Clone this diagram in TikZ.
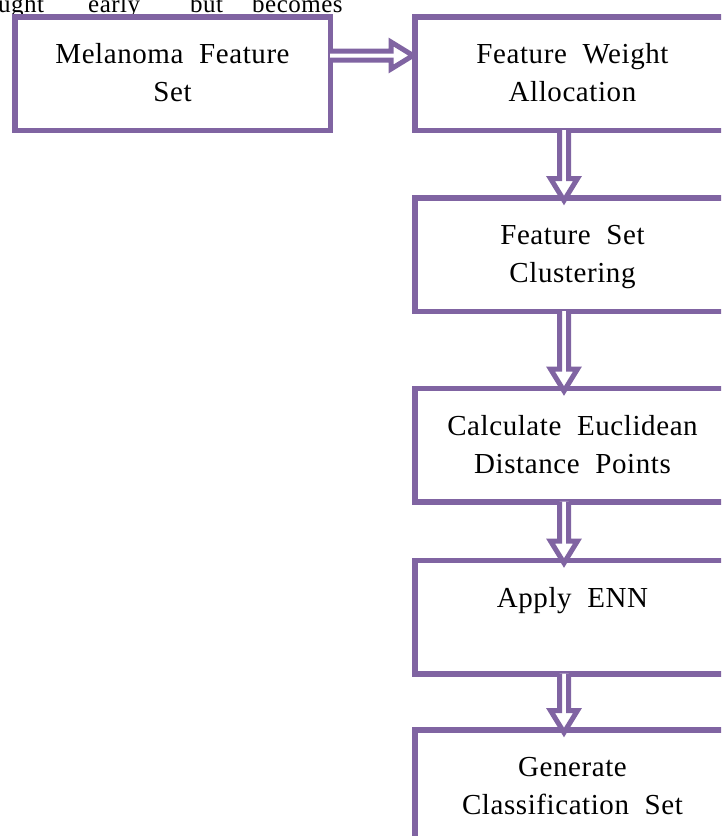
\documentclass[tikz,border=0pt]{standalone}
\usepackage{fontspec}
\setmainfont{Liberation Serif}[WordSpace=2,LetterSpace=2]
\usetikzlibrary{calc}
\definecolor{boxpurple}{HTML}{8064A2}

% text block inside a box: top-aligned, centred lines
\newcommand\boxlines[1]{%
  \begin{minipage}[c][100pt][t]{300pt}\centering
    \vspace*{13.8pt}\fontsize{29}{38}\selectfont\strut#1%
  \end{minipage}}

\tikzset{
  stepbox/.style={draw=boxpurple, line width=5.5pt, fill=white,
    minimum width=315.5pt, minimum height=113.5pt, inner sep=0pt},
  blockarrow/.style={draw=boxpurple, line width=5pt, fill=white,
    line join=miter, miter limit=4},
  bodytext/.style={anchor=base west, inner sep=0pt,
    font=\fontsize{25}{30}\selectfont},
}

\begin{document}
\begin{tikzpicture}[x=1pt, y=-1pt]
  \useasboundingbox (0,0) rectangle (721,836);
  \clip (0,0) rectangle (721,836);

  % running text above the chart
  \node[bodytext] (w1) at (-2,12) {ught};
  \node[bodytext] (w2) at (88,12) {early};
  \node[bodytext] (w3) at (190,12) {but};
  \node[bodytext] (w4) at (252,12) {becomes};

  % process boxes
  \node[stepbox] (mfs) at (172.5,73.5)  {\boxlines{Melanoma Feature\\Set}};
  \node[stepbox] (fwa) at (572.5,73.5)  {\boxlines{Feature Weight\\Allocation}};
  \node[stepbox] (fsc) at (572.5,254.5) {\boxlines{Feature Set\\Clustering}};
  \node[stepbox] (ced) at (572.5,445)   {\boxlines{Calculate Euclidean\\Distance Points}};
  \node[stepbox] (enn) at (572.5,617)   {\boxlines{Apply ENN}};
  \node[stepbox] (gcs) at (572.5,786.5) {\boxlines{Generate\\Classification Set}};

  % horizontal outlined arrow (left box to first step)
  \draw[blockarrow]
    let \p1=(mfs.east), \p2=(fwa.west), \n1={\y1+18pt} in
    (\x1-3pt,\n1+4.5pt) -- (\x2-21pt,\n1+4.5pt) -- (\x2-21pt,\n1+13.5pt)
    -- (\x2+1pt,\n1) -- (\x2-21pt,\n1-13.5pt) -- (\x2-21pt,\n1-4.5pt)
    -- (\x1-3pt,\n1-4.5pt);

  % vertical outlined arrows between steps
  \foreach \a/\b in {fwa/fsc, fsc/ced, ced/enn, enn/gcs}{
    \draw[blockarrow]
      let \p1=(\a.south), \p2=(\b.north), \n1={\x1-8.5pt}, \n2={\y2-5.5pt} in
      (\n1-4.5pt,\y1+3pt) -- (\n1-4.5pt,\n2+22pt) -- (\n1-13.5pt,\n2+22pt)
      -- (\n1,\n2) -- (\n1+13.5pt,\n2+22pt) -- (\n1+4.5pt,\n2+22pt)
      -- (\n1+4.5pt,\y1+3pt);
  }
\end{tikzpicture}
\end{document}
